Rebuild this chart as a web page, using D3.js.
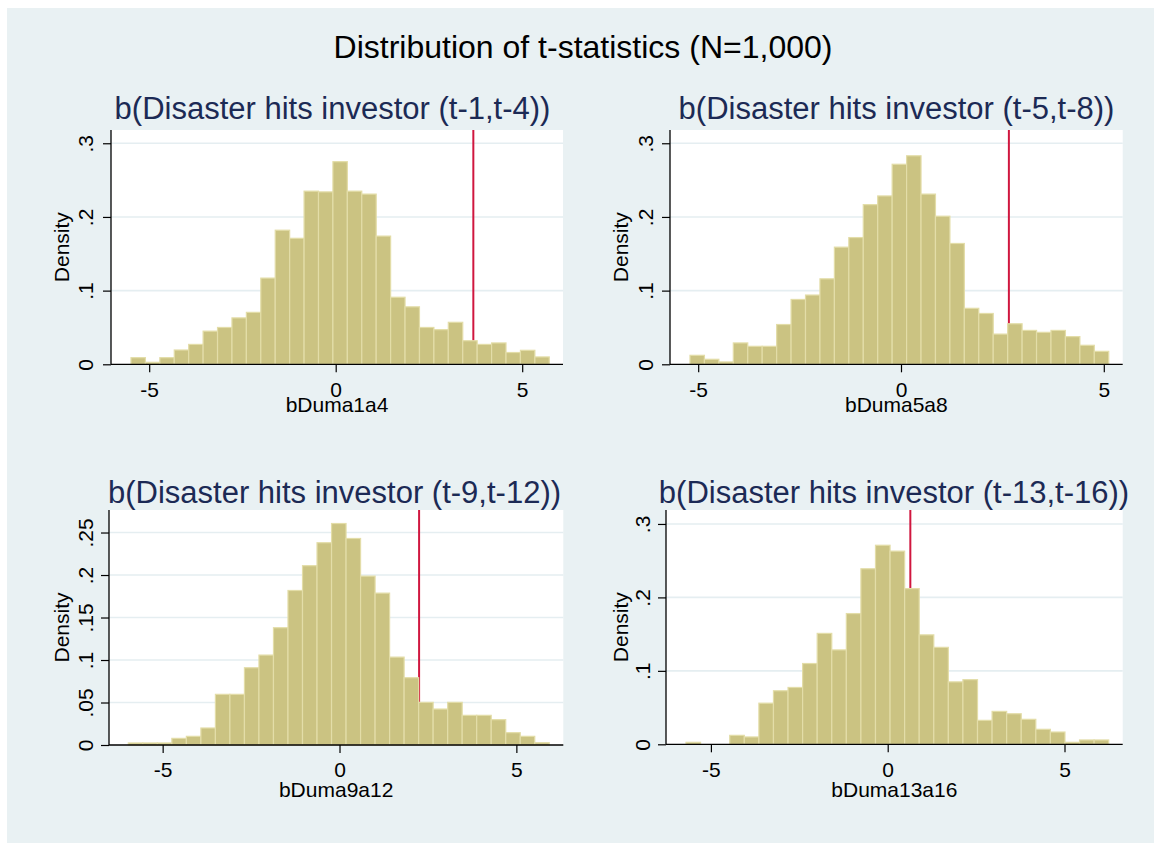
<!DOCTYPE html>
<html>
<head>
<meta charset="utf-8">
<script src="https://cdn.jsdelivr.net/npm/d3@7"></script>
<style>
  html, body { margin: 0; padding: 0; background: #ffffff; }
  svg { display: block; }
  text { font-family: "Liberation Sans", Arial, sans-serif; }
</style>
</head>
<body>
<svg id="chart" width="1154" height="843"></svg>
<script>
// ---------------- DATA ----------------
const mainTitle = "Distribution of t-statistics (N=1,000)";
const panelTitles = [
  "b(Disaster hits investor (t-1,t-4))",
  "b(Disaster hits investor (t-5,t-8))",
  "b(Disaster hits investor (t-9,t-12))",
  "b(Disaster hits investor (t-13,t-16))"
];
const xTitles = ["bDuma1a4", "bDuma5a8", "bDuma9a12", "bDuma13a16"];
const yTitle = "Density";

// histogram bin starts and widths
const binStarts = [-5.488, -5.202, -5.971, -5.704];
const binWidths = [0.3867, 0.356, 0.4104, 0.4122];

// densities per bin
const density1 = [0.009, 0.0027, 0.009, 0.0194, 0.027, 0.045, 0.050, 0.063, 0.0705, 0.117,
  0.182, 0.171, 0.235, 0.234, 0.275, 0.235, 0.231, 0.174, 0.091, 0.078,
  0.050, 0.047, 0.057, 0.032, 0.027, 0.029, 0.016, 0.019, 0.010];
const density2 = [0.0122, 0.0068, 0.0032, 0.029, 0.0244, 0.0244, 0.054, 0.088, 0.094, 0.116,
  0.159, 0.172, 0.2167, 0.2285, 0.2715, 0.283, 0.231, 0.201, 0.164, 0.076,
  0.069, 0.041, 0.055, 0.046, 0.0434, 0.046, 0.0376, 0.0258, 0.0176];
const density3 = [0.0024, 0.0024, 0.0024, 0.0078, 0.0102, 0.020, 0.0596, 0.0596, 0.0909, 0.1058,
  0.138, 0.1818, 0.211, 0.238, 0.2606, 0.243, 0.1987, 0.1787, 0.1034, 0.0792,
  0.0502, 0.0423, 0.0502, 0.0349, 0.0349, 0.0298, 0.0145, 0.0102, 0.0027];
const density4 = [0.0027, 0, 0, 0.0122, 0.010, 0.056, 0.0729, 0.0774, 0.110, 0.151,
  0.1285, 0.178, 0.239, 0.271, 0.263, 0.212, 0.149, 0.132, 0.085, 0.088,
  0.0326, 0.0448, 0.0416, 0.034, 0.0204, 0.0167, 0.0027, 0.0059, 0.0059];
const densities = [density1, density2, density3, density4];

// observed t-statistic (red reference line)
const observedT = [3.69, 2.66, 2.25, 0.64];

// axis ticks
const xTicks = [-5, 0, 5];
const yTicks1 = [0, 0.1, 0.2, 0.3];
const yTicks2 = [0, 0.1, 0.2, 0.3];
const yTicks3 = [0, 0.05, 0.1, 0.15, 0.2, 0.25];
const yTicks4 = [0, 0.1, 0.2, 0.3];
const yTicks = [yTicks1, yTicks2, yTicks3, yTicks4];
const yTickFmt = v => v === 0 ? "0" : String(+v.toFixed(2)).replace(/^0\./, ".");

// ---------------- LAYOUT ----------------
const panels = [
  { left: 111, right: 563,    top: 130, bottom: 364.3, xd: [-6.024, 6.094], yd: [0, 0.318],  tx: 332.5, ty: 119, ytickX: 93,  yTitleX: 69,  xtickY: 397, xTitleY: 412 },
  { left: 670, right: 1122.7, top: 130, bottom: 364.3, xd: [-5.695, 5.466], yd: [0, 0.318],  tx: 896.5, ty: 119, ytickX: 653, yTitleX: 628, xtickY: 397, xTitleY: 412 },
  { left: 109, right: 563.3,  top: 510, bottom: 745,   xd: [-6.517, 6.327], yd: [0, 0.2765], tx: 334.5, ty: 503, ytickX: 93,  yTitleX: 69,  xtickY: 777, xTitleY: 797 },
  { left: 666, right: 1122.7, top: 510, bottom: 744.3, xd: [-6.270, 6.646], yd: [0, 0.319],  tx: 894,   ty: 503, ytickX: 650, yTitleX: 628, xtickY: 777, xTitleY: 797 }
];

const COL = {
  bg: "#e9f1f3",
  grid: "#e5eef1",
  bar: "#cbc382",
  barStroke: "#e3dda8",
  red: "#d0173f",
  navy: "#1c2a55",
  axis: "#000000"
};

const svg = d3.select("#chart");
svg.append("rect").attr("x", 7).attr("y", 8).attr("width", 1154 - 7).attr("height", 843 - 8).attr("fill", COL.bg);

svg.append("text")
  .attr("x", 583).attr("y", 58)
  .attr("text-anchor", "middle")
  .attr("font-size", 32)
  .attr("fill", "#000")
  .text(mainTitle);

panels.forEach((p, i) => {
  const x = d3.scaleLinear().domain(p.xd).range([p.left, p.right]);
  const y = d3.scaleLinear().domain(p.yd).range([p.bottom, p.top]);
  const g = svg.append("g");

  // plot region
  g.append("rect").attr("x", p.left).attr("y", p.top)
    .attr("width", p.right - p.left).attr("height", p.bottom - p.top)
    .attr("fill", "#ffffff");

  // gridlines
  g.selectAll(".grid").data(yTicks[i].filter(v => v > 0)).enter().append("line")
    .attr("x1", p.left).attr("x2", p.right)
    .attr("y1", d => y(d)).attr("y2", d => y(d))
    .attr("stroke", COL.grid).attr("stroke-width", 1.6);

  // reference line (behind bars)
  g.append("line")
    .attr("x1", x(observedT[i])).attr("x2", x(observedT[i]))
    .attr("y1", p.top).attr("y2", p.bottom)
    .attr("stroke", COL.red).attr("stroke-width", 2);

  // bars
  const bins = densities[i].map((d, k) => ({ x0: binStarts[i] + k * binWidths[i], x1: binStarts[i] + (k + 1) * binWidths[i], d }));
  g.selectAll(".bar").data(bins.filter(b => b.d > 0)).enter().append("rect")
    .attr("x", b => x(b.x0))
    .attr("width", b => x(b.x1) - x(b.x0))
    .attr("y", b => y(b.d))
    .attr("height", b => y(0) - y(b.d))
    .attr("fill", COL.bar)
    .attr("stroke", COL.barStroke)
    .attr("stroke-width", 1.2);

  // y axis
  const yAxis = d3.axisLeft(y).tickValues(yTicks[i]).tickSize(8).tickFormat(yTickFmt);
  const ya = g.append("g").attr("transform", `translate(${p.left},0)`).call(yAxis);
  ya.select(".domain").attr("d", `M0,${p.top}V${p.bottom}`).attr("stroke", COL.axis).attr("stroke-width", 1.3);
  ya.selectAll(".tick line").attr("stroke", COL.axis).attr("stroke-width", 1.2);
  ya.selectAll(".tick text")
    .attr("x", null).attr("dy", null)
    .attr("transform", `translate(${p.ytickX - p.left},0) rotate(-90)`)
    .attr("text-anchor", "middle")
    .attr("font-size", 21)
    .attr("font-family", "'Liberation Sans', Arial, sans-serif")
    .attr("fill", "#000");

  // x axis
  const xAxis = d3.axisBottom(x).tickValues(xTicks).tickSize(8).tickFormat(d3.format("d"));
  const xa = g.append("g").attr("transform", `translate(0,${p.bottom})`).call(xAxis);
  xa.select(".domain").attr("d", `M${p.left},0H${p.right}`).attr("stroke", COL.axis).attr("stroke-width", 1.3);
  xa.selectAll(".tick line").attr("stroke", COL.axis).attr("stroke-width", 1.2);
  xa.selectAll(".tick text")
    .attr("y", p.xtickY - p.bottom).attr("dy", null)
    .attr("font-size", 21)
    .attr("font-family", "'Liberation Sans', Arial, sans-serif")
    .attr("fill", "#000")
    .text(d => d < 0 ? "-" + Math.abs(d) : d);

  // axis titles
  g.append("text")
    .attr("transform", `translate(${p.yTitleX},${(p.top + p.bottom) / 2}) rotate(-90)`)
    .attr("text-anchor", "middle").attr("font-size", 21).attr("fill", "#000")
    .text(yTitle);
  g.append("text")
    .attr("x", (p.left + p.right) / 2).attr("y", p.xTitleY)
    .attr("text-anchor", "middle").attr("font-size", 21).attr("fill", "#000")
    .text(xTitles[i]);

  // panel title
  g.append("text")
    .attr("x", p.tx).attr("y", p.ty)
    .attr("text-anchor", "middle").attr("font-size", 31).attr("fill", COL.navy)
    .text(panelTitles[i]);
});
</script>
</body>
</html>
